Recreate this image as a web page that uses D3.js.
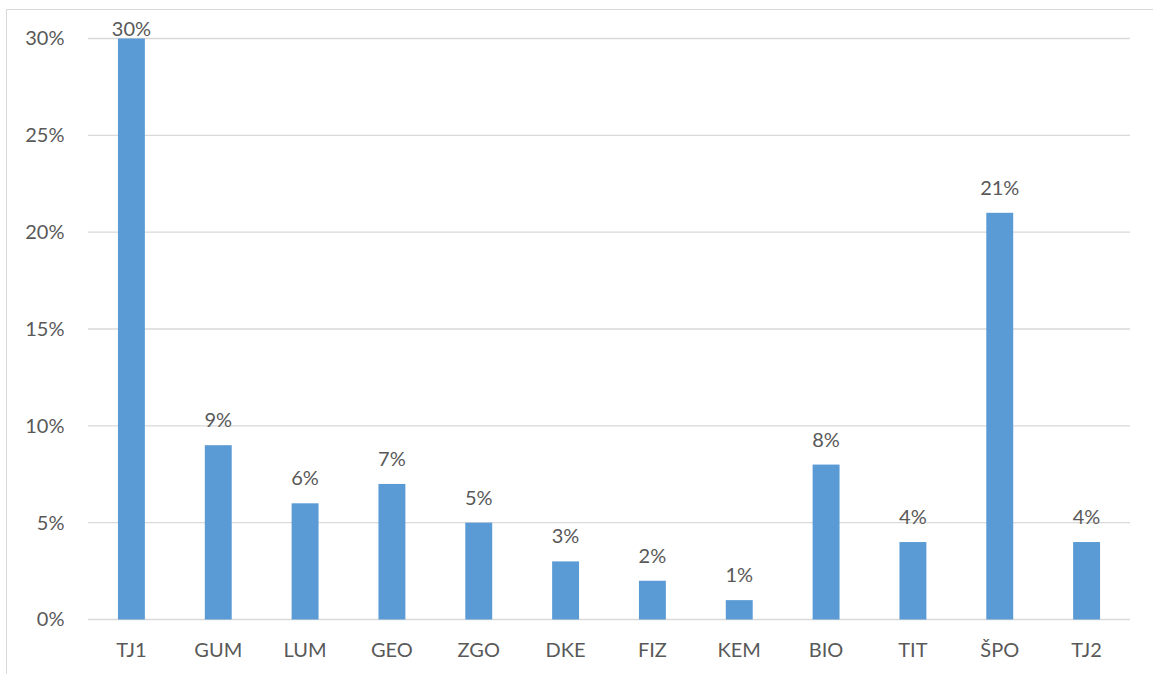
<!DOCTYPE html>
<html>
<head>
<meta charset="utf-8">
<script src="https://cdn.jsdelivr.net/npm/d3@7"></script>
<style>
  body { margin: 0; background: #fff; }
  text { font-family: Lato, "Open Sans", sans-serif; fill: #595959; }
</style>
</head>
<body>
<div id="chart"></div>
<script>
// chart data
var categories = ["TJ1", "GUM", "LUM", "GEO", "ZGO", "DKE", "FIZ", "KEM", "BIO", "TIT", "ŠPO", "TJ2"];
var values = [30, 9, 6, 7, 5, 3, 2, 1, 8, 4, 21, 4];
var yTicks = [0, 5, 10, 15, 20, 25, 30];

var W = 1153, H = 674;
var margin = {top: 38.5, right: 23, bottom: 54.5, left: 88},
    width = W - margin.left - margin.right,
    height = H - margin.top - margin.bottom;
var fontSize = 20;

var svg = d3.select("#chart").append("svg")
    .attr("width", W)
    .attr("height", H);

// chart frame (partly cut off in the original)
svg.append("rect")
    .attr("x", 6.5).attr("y", 9.5)
    .attr("width", W + 20).attr("height", H + 20)
    .attr("fill", "none")
    .attr("stroke", "#D9D9D9");

var g = svg.append("g")
    .attr("transform", "translate(" + margin.left + "," + margin.top + ")");

var x = d3.scaleBand().domain(categories).range([0, width]).paddingInner(0.69).paddingOuter(0.345);
var y = d3.scaleLinear().domain([0, 30]).range([height, 0]);

// gridlines
g.selectAll(".grid").data(yTicks).enter().append("line")
    .attr("x1", 0).attr("x2", width)
    .attr("y1", function(d) { return y(d); })
    .attr("y2", function(d) { return y(d); })
    .attr("stroke", "#D9D9D9")
    .attr("stroke-width", 1.3);

// y axis labels
var yAxis = g.append("g")
    .call(d3.axisLeft(y).tickValues(yTicks).tickSize(0).tickPadding(23.5)
      .tickFormat(function(d) { return d + "%"; }));
yAxis.select(".domain").remove();
yAxis.selectAll("text").attr("font-size", fontSize).style("font-family", "Lato, sans-serif").attr("fill", "#595959");

// bars
g.selectAll(".bar").data(values).enter().append("rect")
    .attr("x", function(d, i) { return x(categories[i]); })
    .attr("y", function(d) { return y(d); })
    .attr("width", x.bandwidth())
    .attr("height", function(d) { return height - y(d); })
    .attr("fill", "#5B9BD5");

// value labels (kept inside the plot area, like Excel does)
g.selectAll(".lbl").data(values).enter().append("text")
    .attr("x", function(d, i) { return x(categories[i]) + x.bandwidth() / 2; })
    .attr("y", function(d) { return Math.max(y(d) - 18, -2.5); })
    .attr("text-anchor", "middle")
    .attr("font-size", fontSize)
    .text(function(d) { return d + "%"; });

// x axis
var xAxis = g.append("g")
    .attr("transform", "translate(0," + height + ")")
    .call(d3.axisBottom(x).tickSize(0).tickPadding(23.5));
xAxis.select(".domain").remove();
xAxis.selectAll("text").attr("font-size", fontSize).style("font-family", "Lato, sans-serif").attr("fill", "#595959");
</script>
</body>
</html>
